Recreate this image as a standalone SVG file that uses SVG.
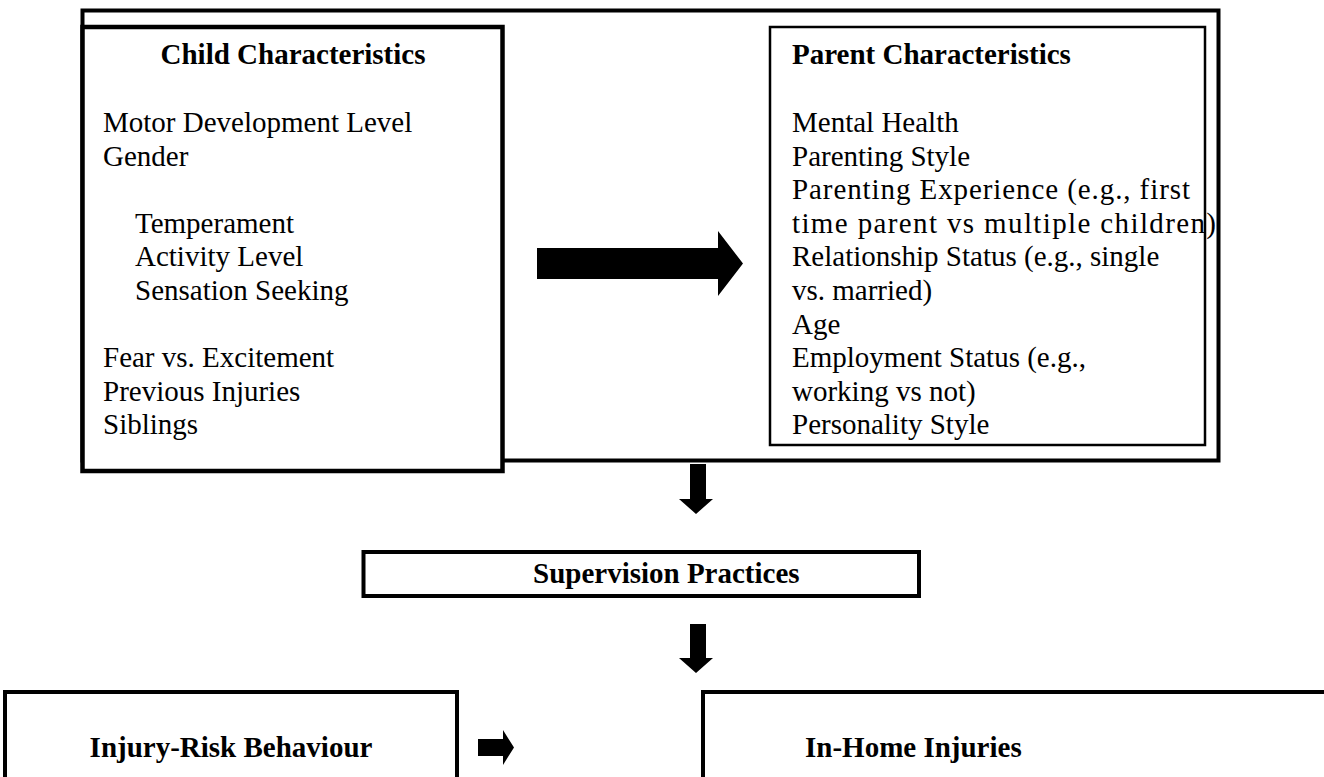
<svg xmlns="http://www.w3.org/2000/svg" width="1324" height="777" viewBox="0 0 1324 777">
<style>
  .t { font-family: "Liberation Serif", "Times New Roman", serif; font-size: 29px; fill: #000; }
  .b { font-weight: bold; }
  .frame { fill: none; stroke: #000; stroke-width: 4; }
  .box { fill: #fff; stroke: #000; }
  .arrow { fill: #000; stroke: none; }
</style>
<rect width="1324" height="777" fill="#fff"/>
<g id="outer-frame">
  <rect class="frame" x="82.5" y="10.5" width="1136" height="450"/>
</g>
<g id="child-characteristics">
  <rect class="box" x="82.5" y="27" width="420" height="444" stroke-width="4.5"/>
  <text class="t b" x="293" y="64" text-anchor="middle">Child Characteristics</text>
  <text class="t" x="103" y="132">Motor Development Level</text>
  <text class="t" x="103" y="165.6">Gender</text>
  <text class="t" x="135" y="232.8">Temperament</text>
  <text class="t" x="135" y="266.4">Activity Level</text>
  <text class="t" x="135" y="300">Sensation Seeking</text>
  <text class="t" x="103" y="367.2">Fear vs. Excitement</text>
  <text class="t" x="103" y="400.8">Previous Injuries</text>
  <text class="t" x="103" y="434.4">Siblings</text>
</g>
<g id="parent-characteristics">
  <rect class="box" x="770" y="27" width="435" height="418" stroke-width="2.5"/>
  <text class="t b" x="792" y="64">Parent Characteristics</text>
  <text class="t" x="792" y="132">Mental Health</text>
  <text class="t" x="792" y="165.6">Parenting Style</text>
  <text class="t" x="792" y="199.2" textLength="398" lengthAdjust="spacing">Parenting Experience (e.g., first</text>
  <text class="t" x="792" y="232.8" textLength="424" lengthAdjust="spacing">time parent vs multiple children)</text>
  <text class="t" x="792" y="266.4">Relationship Status (e.g., single</text>
  <text class="t" x="792" y="300">vs. married)</text>
  <text class="t" x="792" y="333.6">Age</text>
  <text class="t" x="792" y="367.2">Employment Status (e.g.,</text>
  <text class="t" x="792" y="400.8">working vs not)</text>
  <text class="t" x="792" y="434.4">Personality Style</text>
</g>
<g id="supervision-practices">
  <rect class="box" x="363.5" y="552" width="555.5" height="44" stroke-width="4"/>
  <text class="t b" x="533" y="583">Supervision Practices</text>
</g>
<g id="injury-risk-behaviour">
  <rect class="box" x="5" y="692" width="452" height="100" stroke-width="4"/>
  <text class="t b" x="231" y="757" text-anchor="middle">Injury-Risk Behaviour</text>
</g>
<g id="in-home-injuries">
  <rect class="box" x="703" y="692" width="640" height="100" stroke-width="4"/>
  <text class="t b" x="805" y="757">In-Home Injuries</text>
</g>
<g id="connectors">
  <polygon class="arrow" points="537,248 718,248 718,231 743,263.5 718,296 718,279 537,279"/>
  <polygon class="arrow" points="690,464 706,464 706,499 713,499 696,514 679,499 690,499"/>
  <polygon class="arrow" points="690,624 706,624 706,658 713,658 696,673 679,658 690,658"/>
  <polygon class="arrow" points="478,739 503,739 503,730 514,747.5 503,765 503,756 478,756"/>
</g>
</svg>
